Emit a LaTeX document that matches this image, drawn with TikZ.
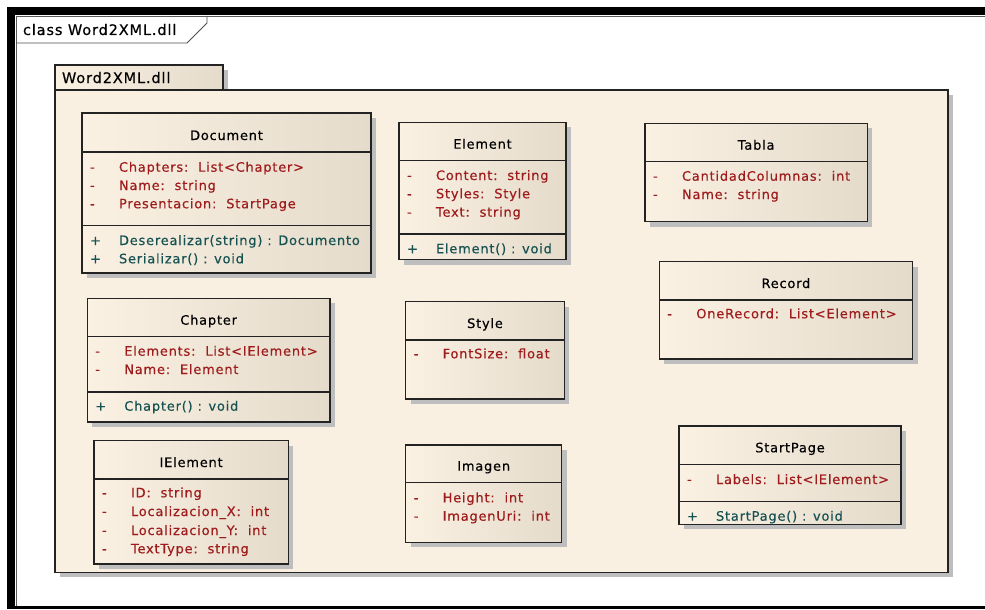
\documentclass[tikz,border=0pt]{standalone}
\usepackage{fontspec}
\setmainfont{DejaVu Sans}[LetterSpace=6, FakeBold=0.4]
\definecolor{attrc}{RGB}{158,28,28}
\definecolor{methc}{RGB}{22,82,82}
\definecolor{cream}{RGB}{251,241,227}
\definecolor{beige}{RGB}{228,219,203}
\definecolor{pkgfill}{RGB}{250,240,225}
\definecolor{shadowc}{RGB}{190,190,190}
\definecolor{edgec}{RGB}{35,35,35}
\tikzset{
  classbox/.style={draw=edgec, line width=1.3pt, left color=cream, right color=beige,
    inner sep=0pt, outer sep=0pt, anchor=north west},
  sepline/.style={draw=edgec, line width=1.3pt},
  txt/.style={inner sep=0pt, outer sep=0pt, font=\fontsize{13}{15}\selectfont, anchor=base west},
  ttl/.style={txt, anchor=base, text=black},
  attr/.style={txt, text=attrc},
  meth/.style={txt, text=methc},
  lbl/.style={txt, font=\fontsize{14.5}{16}\selectfont, text=black},
}
% #1 name, #2 x0, #3 y0, #4 x1, #5 y1, #6 header line y, #7 title
\newcommand\umlbox[7]{%
  \fill[shadowc] ({#2+5},{#3+5}) rectangle ({#4+5},{#5+5});
  \node[classbox, minimum width={#4-#2}, minimum height={#5-#3}] (#1) at (#2,#3) {};
  \draw[sepline] (#2,#6) -- (#4,#6);
  \node[ttl] (#1-title) at ({(#2+#4)/2},{#6-12}) {#7};
}
\newcommand\umlsep[3]{\draw[sepline] (#1,#3) -- (#2,#3);}
\newcommand\uattr[4]{%
  \node[attr] (#1-s) at ({#2+8},#3) {-};
  \node[attr] (#1) at ({#2+37},#3) {#4};
}
\newcommand\umeth[4]{%
  \node[meth] (#1-s) at ({#2+8},#3) {+};
  \node[meth] (#1) at ({#2+37},#3) {#4};
}
\begin{document}
\begin{tikzpicture}[x=1pt,y=-1pt]
\useasboundingbox (0,0) rectangle (985,610);
\fill[white] (0,0) rectangle (985,610);
% outer frame
\fill[black] (7,7) rectangle (985,15);
\fill[black] (7,7) rectangle (14.5,609);
\fill[black] (7,606) rectangle (985,609);
\draw[gray!70!black, line width=0.9pt] (16,605.5) -- (16,16) -- (985,16);
% frame label tab
\draw[edgec!80, line width=0.9pt] (207,16) -- (207,23) -- (187,43) -- (16,43);
\node[lbl] (framelabel) at (23,35) {class Word2XML.dll};
% package
\fill[shadowc] (60,70) rectangle (228,95);
\fill[shadowc] (60,95) rectangle (953,577);
\path[draw=edgec, line width=1.3pt, left color=cream, right color=beige] (55,65) rectangle (223,90);
\path[draw=edgec, line width=1.3pt, fill=pkgfill] (55,90) rectangle (948,572.5);
\node[lbl] (pkglabel) at (62,83) {Word2XML.dll};

% Document
\umlbox{doc}{82}{113}{371}{273}{152}{Document}
\umlsep{82}{371}{225.7}
\uattr{docA1}{82}{171.7}{Chapters:~~List<Chapter>}
\uattr{docA2}{82}{190}{Name:~~string}
\uattr{docA3}{82}{208.3}{Presentacion:~~StartPage}
\umeth{docM1}{82}{245}{Deserealizar(string) : Documento}
\umeth{docM2}{82}{263.3}{Serializar() : void}

% Element
\umlbox{elem}{399}{122.3}{566}{259.5}{160.7}{Element}
\umlsep{399}{566}{234}
\uattr{elemA1}{399}{180}{Content:~~string}
\uattr{elemA2}{399}{198.3}{Styles:~~Style}
\uattr{elemA3}{399}{216.7}{Text:~~string}
\umeth{elemM1}{399}{253.3}{Element() : void}

% Tabla
\umlbox{tabla}{645}{123.3}{867.3}{221.7}{161.7}{Tabla}
\uattr{tablaA1}{645}{180.7}{CantidadColumnas:~~int}
\uattr{tablaA2}{645}{199}{Name:~~string}

% Record
\umlbox{record}{659.3}{261.7}{912.5}{359}{300}{Record}
\uattr{recordA1}{659.3}{318.3}{OneRecord:~~List<Element>}

% Chapter
\umlbox{chapter}{87.3}{298.3}{330}{422}{336.7}{Chapter}
\umlsep{87.3}{330}{392}
\uattr{chapterA1}{87.3}{355.7}{Elements:~~List<IElement>}
\uattr{chapterA2}{87.3}{374}{Name:~~Element}
\umeth{chapterM1}{87.3}{410.7}{Chapter() : void}

% Style
\umlbox{style}{405.7}{301.7}{564.3}{399}{340}{Style}
\uattr{styleA1}{405.7}{358.3}{FontSize:~~float}

% IElement
\umlbox{ielem}{94}{440.7}{288.3}{564}{479}{IElement}
\uattr{ielemA1}{94}{497.3}{ID:~~string}
\uattr{ielemA2}{94}{516}{Localizacion\_X:~~int}
\uattr{ielemA3}{94}{535}{Localizacion\_Y:~~int}
\uattr{ielemA4}{94}{553.3}{TextType:~~string}

% Imagen
\umlbox{imagen}{405.7}{445}{561.7}{542.3}{482.7}{Imagen}
\uattr{imagenA1}{405.7}{502.3}{Height:~~int}
\uattr{imagenA2}{405.7}{520.7}{ImagenUri:~~int}

% StartPage
\umlbox{startp}{679}{426}{901}{524.3}{464.3}{StartPage}
\umlsep{679}{901}{501.3}
\uattr{startpA1}{679}{484}{Labels:~~List<IElement>}
\umeth{startpM1}{679}{520.7}{StartPage() : void}
\end{tikzpicture}
\end{document}
